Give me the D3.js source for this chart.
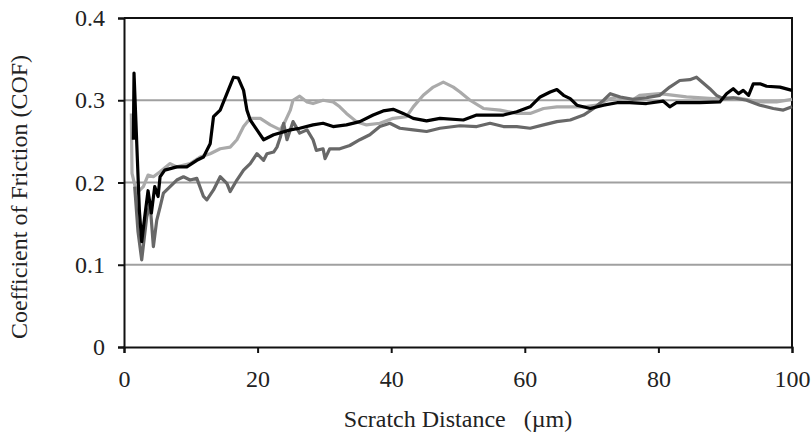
<!DOCTYPE html>
<html>
<head>
<meta charset="utf-8">
<script src="https://cdn.jsdelivr.net/npm/d3@7"></script>
<style>
  body { margin: 0; background: #fff; }
  svg text { font-family: "Liberation Serif", "Times New Roman", Tinos, Times, serif; fill: #222; }
</style>
</head>
<body>
<div id="chart"></div>
<script>
// scratch distance (um) / COF
const lightX = [1.1, 1.2, 1.9, 2.9, 3.6, 4.4, 5.4, 6.9, 7.9, 9.9, 11.4, 12.9, 14.4, 15.9, 16.9, 17.9, 18.9, 20.4, 21.9, 23.4, 24.1, 24.9, 25.3, 26.3, 27.4, 28.3, 29.8, 31.3, 32.3, 33.3, 34.8, 36.3, 38.3, 40.3, 42.3, 43.3, 44.8, 46.3, 47.8, 49.3, 50.3, 51.8, 53.8, 56.3, 58.8, 60.8, 62.8, 64.8, 66.8, 68.8, 70.8, 72.8, 73.8, 75.7, 77.2, 80.2, 84.2, 88.2, 91.7, 95.2, 97.7, 100];
const lightY = [0.284, 0.211, 0.187, 0.195, 0.209, 0.207, 0.213, 0.223, 0.219, 0.223, 0.231, 0.235, 0.241, 0.243, 0.252, 0.268, 0.278, 0.278, 0.27, 0.264, 0.274, 0.288, 0.3, 0.305, 0.298, 0.296, 0.3, 0.298, 0.292, 0.284, 0.274, 0.27, 0.272, 0.278, 0.28, 0.292, 0.306, 0.316, 0.322, 0.316, 0.31, 0.3, 0.29, 0.288, 0.284, 0.284, 0.29, 0.292, 0.292, 0.292, 0.294, 0.302, 0.304, 0.298, 0.306, 0.308, 0.304, 0.302, 0.303, 0.298, 0.298, 0.301];

const darkX = [1.6, 2.1, 2.65, 3.4, 3.9, 4.4, 4.9, 5.4, 5.9, 6.9, 7.9, 8.9, 9.9, 10.9, 11.9, 12.4, 13.4, 14.4, 15.4, 15.9, 16.9, 17.9, 18.9, 19.9, 20.9, 21.4, 22.4, 22.9, 23.4, 23.9, 24.4, 25.3, 26.3, 27.4, 28.3, 28.8, 29.8, 30.1, 30.8, 32.3, 33.8, 35.3, 36.8, 38.3, 39.8, 41.3, 43.3, 45.3, 47.3, 50.3, 52.8, 54.8, 56.8, 58.8, 60.8, 62.8, 64.8, 66.8, 68.8, 70.3, 71.8, 72.8, 74.3, 76.2, 78.2, 80.2, 81.7, 83.2, 84.7, 85.7, 86.7, 87.7, 88.7, 89.7, 91.2, 93.2, 95.2, 97.2, 98.7, 100];
const darkY = [0.195, 0.14, 0.106, 0.158, 0.175, 0.122, 0.154, 0.17, 0.187, 0.195, 0.203, 0.207, 0.203, 0.205, 0.183, 0.179, 0.191, 0.207, 0.199, 0.189, 0.203, 0.215, 0.223, 0.235, 0.227, 0.235, 0.237, 0.243, 0.255, 0.272, 0.252, 0.274, 0.26, 0.264, 0.252, 0.239, 0.241, 0.229, 0.241, 0.241, 0.245, 0.252, 0.258, 0.268, 0.272, 0.266, 0.264, 0.262, 0.266, 0.269, 0.268, 0.272, 0.268, 0.268, 0.266, 0.27, 0.274, 0.276, 0.282, 0.29, 0.3, 0.308, 0.304, 0.301, 0.303, 0.306, 0.316, 0.324, 0.325, 0.328, 0.321, 0.314, 0.306, 0.302, 0.303, 0.3, 0.294, 0.29, 0.288, 0.292];

const blackX = [1.4, 1.5, 2.3, 2.65, 3.1, 3.6, 4.1, 4.6, 5.1, 5.4, 6.1, 7.9, 9.4, 10.9, 11.9, 12.9, 13.4, 14.4, 15.4, 16.4, 17.1, 17.9, 18.4, 18.9, 19.9, 20.9, 22.4, 24.9, 26.3, 28.3, 29.8, 31.3, 33.3, 35.3, 37.3, 38.8, 40.3, 41.8, 43.3, 45.3, 47.3, 50.8, 52.8, 54.8, 56.8, 58.8, 60.8, 62.3, 63.8, 64.8, 65.8, 66.8, 67.8, 69.8, 71.8, 73.8, 75.7, 78.2, 80.7, 81.7, 82.7, 86.2, 89.2, 90.2, 91.2, 92.0, 92.7, 93.5, 94.2, 95.2, 96.2, 98.2, 100];
const blackY = [0.252, 0.333, 0.166, 0.128, 0.158, 0.19, 0.163, 0.195, 0.183, 0.207, 0.215, 0.219, 0.219, 0.227, 0.231, 0.247, 0.28, 0.288, 0.308, 0.328, 0.327, 0.312, 0.288, 0.276, 0.264, 0.252, 0.258, 0.264, 0.266, 0.27, 0.272, 0.268, 0.27, 0.274, 0.282, 0.287, 0.289, 0.284, 0.278, 0.275, 0.278, 0.276, 0.282, 0.282, 0.282, 0.286, 0.292, 0.304, 0.31, 0.313, 0.306, 0.302, 0.294, 0.29, 0.294, 0.297, 0.297, 0.296, 0.299, 0.292, 0.297, 0.297, 0.298, 0.308, 0.314, 0.308, 0.312, 0.306, 0.32, 0.32, 0.317, 0.316, 0.312];

const xTicks = [0, 20, 40, 60, 80, 100];
const yTicks = [0, 0.1, 0.2, 0.3, 0.4];
const gridValues = [0.1, 0.2, 0.3];

const WIDTH = 812, HEIGHT = 433;
const LEFT = 124, RIGHT = 792, TOP = 18, BOTTOM = 347;
const FONT = '"Liberation Serif", "Times New Roman", Tinos, Times, serif';

const svg = d3.select("#chart")
              .append("svg")
                .attr("width", WIDTH)
                .attr("height", HEIGHT);

const x = d3.scaleLinear().domain([0, 100]).range([LEFT, RIGHT]);
const y = d3.scaleLinear().domain([0, 0.4]).range([BOTTOM, TOP]);

// grid
svg.append("g")
    .selectAll("line")
    .data(gridValues)
    .join("line")
      .attr("x1", LEFT).attr("x2", RIGHT)
      .attr("y1", d => y(d)).attr("y2", d => y(d))
      .attr("stroke", "#a0a0a0")
      .attr("stroke-width", 2);

// frame top + right
svg.append("path")
    .attr("d", `M${LEFT},${y(0.4)}H${x(100)}V${BOTTOM}`)
    .attr("fill", "none")
    .attr("stroke", "#111")
    .attr("stroke-width", 2);

const line = d3.line().x(d => x(d[0])).y(d => y(d[1]));
const series = [
    { xs: lightX, ys: lightY, color: "#aaaaaa" },
    { xs: darkX,  ys: darkY,  color: "#686868" },
    { xs: blackX, ys: blackY, color: "#000000" }
];

svg.selectAll("path.series")
    .data(series)
    .join("path")
      .attr("class", "series")
      .attr("d", s => line(s.xs.map((v, i) => [v, s.ys[i]])))
      .attr("fill", "none")
      .attr("stroke", s => s.color)
      .attr("stroke-width", 3.2)
      .attr("stroke-linejoin", "round");

// axes
const xAxis = svg.append("g")
    .attr("transform", `translate(0, ${BOTTOM})`)
    .call(d3.axisBottom(x).tickValues(xTicks).tickSize(6).tickPadding(17).tickFormat(d3.format("d")));
const yAxis = svg.append("g")
    .attr("transform", `translate(${LEFT}, 0)`)
    .call(d3.axisLeft(y).tickValues(yTicks).tickSize(6).tickPadding(13).tickFormat(d => d === 0 ? "0" : d3.format(".1f")(d)));

[xAxis, yAxis].forEach(a => {
    a.attr("font-family", FONT).attr("font-size", 24);
    a.select(".domain").attr("stroke", "#111").attr("stroke-width", 2);
    a.selectAll(".tick line").attr("stroke", "#111").attr("stroke-width", 2);
    a.selectAll("text").attr("fill", "#222");
});

svg.append("text")
    .attr("x", (LEFT + RIGHT) / 2)
    .attr("y", 427)
    .attr("text-anchor", "middle")
    .attr("font-family", FONT)
    .attr("font-size", 24)
    .style("white-space", "pre")
    .text("Scratch Distance   (\u00b5m)");

svg.append("text")
    .attr("transform", "translate(27, 197) rotate(-90)")
    .attr("text-anchor", "middle")
    .attr("font-family", FONT)
    .attr("font-size", 24)
    .text("Coefficient of Friction (COF)");
</script>
</body>
</html>
